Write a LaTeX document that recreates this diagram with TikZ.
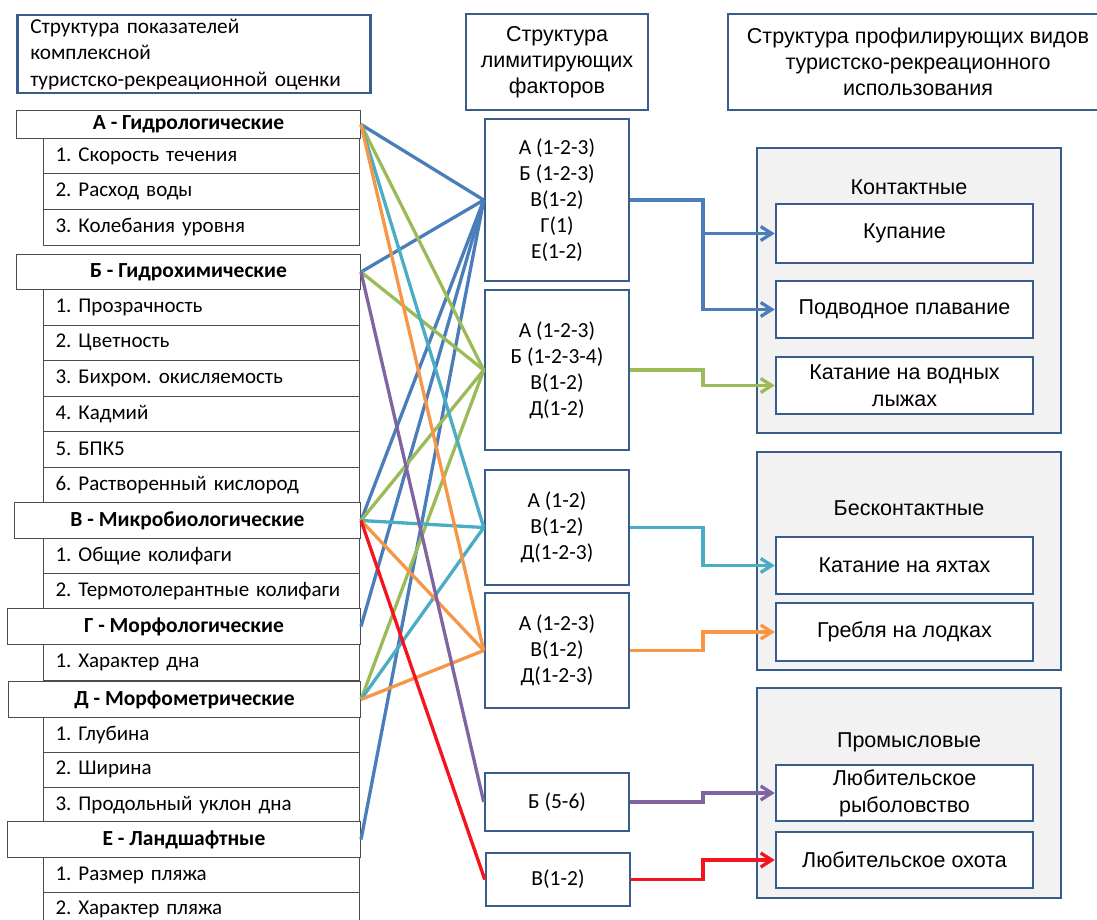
\documentclass[tikz,border=0pt]{standalone}
\usepackage{fontspec}
\setmainfont{Carlito}
\newfontfamily\arialfont{Liberation Sans}
\usetikzlibrary{arrows.meta}
\definecolor{frame}{HTML}{385D8A}
\definecolor{lblue}{HTML}{4A7EBB}
\definecolor{lgreen}{HTML}{9BBB59}
\definecolor{lcyan}{HTML}{4BACC6}
\definecolor{lorange}{HTML}{F79646}
\definecolor{lpurple}{HTML}{8064A2}
\definecolor{lred}{HTML}{F5141E}
\definecolor{grpfill}{HTML}{F2F2F2}
\frenchspacing

\begin{document}
\begin{tikzpicture}[x=1pt,y=-1pt,
	hdr/.style={draw=black!70,line width=1pt,fill=white,anchor=north west,inner sep=0pt,font=\bfseries\fontsize{21.5}{24}\selectfont},
	item/.style={draw=black!70,line width=1pt,fill=white,anchor=north west,text width=292pt,inner xsep=12pt,inner ysep=0pt,minimum height=35.5pt,align=left,font=\fontsize{21}{24}\selectfont},
	title/.style={draw=frame,line width=2.5pt,fill=white,inner sep=0pt,font=\arialfont\fontsize{21.5}{26}\selectfont,align=center},
	lim/.style={draw=frame,line width=2.5pt,fill=white,minimum width=144pt,inner sep=0pt,align=center,font=\fontsize{21.5}{26}\selectfont},
	grp/.style={draw=frame,line width=2.5pt,fill=grpfill},
	kind/.style={draw=frame,line width=2.5pt,fill=white,minimum width=257pt,inner sep=0pt,align=center,font=\arialfont\fontsize{21.5}{27}\selectfont},
	lnk/.style={line width=3.3pt},
	arr/.style={line width=3.3pt,-{Straight Barb[length=11pt,width=14pt]}}]
	\useasboundingbox (0,0) rectangle (1097,920);

	% headers
	\node[title,anchor=north west,minimum width=353pt,minimum height=78pt,text width=327pt,inner xsep=13pt,align=left,font=\fontsize{21.3}{26.5}\selectfont] (tleft) at (16,14) {Структура показателей\\комплексной\\туристско-рекреационной оценки};
	\node[title,minimum width=182pt,minimum height=96pt] (tmid) at (557,62) {Структура\\лимитирующих\\факторов};
	\node[title,minimum width=380pt,minimum height=96pt] (tright) at (918,62) {Структура профилирующих видов\\туристско-рекреационного\\использования};

	% indicators
	\node[hdr,minimum width=344pt,minimum height=28pt] (hA) at (16,110) {А - Гидрологические};
	\node[item] (a1) at (43,138) {1. Скорость течения};
	\node[item] (a2) at (43,173.5) {2. Расход воды};
	\node[item] (a3) at (43,209) {3. Колебания уровня};
	\node[hdr,minimum width=344pt,minimum height=35pt] (hB) at (16,254) {Б - Гидрохимические};
	\node[item] (b1) at (43,289) {1. Прозрачность};
	\node[item] (b2) at (43,324.5) {2. Цветность};
	\node[item] (b3) at (43,360) {3. Бихром. окисляемость};
	\node[item] (b4) at (43,395.5) {4. Кадмий};
	\node[item] (b5) at (43,431) {5. БПК5};
	\node[item] (b6) at (43,466.5) {6. Растворенный кислород};
	\node[hdr,minimum width=346pt,minimum height=36pt] (hV) at (14,502) {В - Микробиологические};
	\node[item] (v1) at (43,538) {1. Общие колифаги};
	\node[item] (v2) at (43,573) {2. Термотолерантные колифаги};
	\node[hdr,minimum width=353pt,minimum height=36pt] (hG) at (7,608) {Г - Морфологические};
	\node[item] (g1) at (43,644) {1. Характер дна};
	\node[hdr,minimum width=352pt,minimum height=36pt] (hD) at (8,681) {Д - Морфометрические};
	\node[item] (d1) at (43,717) {1. Глубина};
	\node[item] (d2) at (43,751.5) {2. Ширина};
	\node[item] (d3) at (43,786.5) {3. Продольный уклон дна};
	\node[hdr,minimum width=353pt,minimum height=36pt] (hE) at (7,821) {Е - Ландшафтные};
	\node[item] (e1) at (43,857) {1. Размер пляжа};
	\node[item] (e2) at (43,891.5) {2. Характер пляжа};

	% limiting factors
	\node[lim,minimum height=162pt] (m1) at (557,200) {А (1-2-3)\\Б (1-2-3)\\В(1-2)\\Г(1)\\Е(1-2)};
	\node[lim,minimum height=160pt] (m2) at (557,370) {А (1-2-3)\\Б (1-2-3-4)\\В(1-2)\\Д(1-2)};
	\node[lim,minimum height=115pt] (m3) at (557,527.5) {А (1-2)\\В(1-2)\\Д(1-2-3)};
	\node[lim,minimum height=115pt] (m4) at (557,650.5) {А (1-2-3)\\В(1-2)\\Д(1-2-3)};
	\node[lim,minimum height=58pt] (m5) at (557,802) {Б (5-6)};
	\node[lim,minimum height=53pt] (m6) at (558,879.5) {В(1-2)};

	% kinds of use
	\draw[grp] (757,148) rectangle (1061,433);
	\draw[grp] (757,452) rectangle (1061,670);
	\draw[grp] (757,688) rectangle (1061,898);
	\node[font=\arialfont\fontsize{21.5}{24}\selectfont] (g1t) at (909,187) {Контактные};
	\node[font=\arialfont\fontsize{21.5}{24}\selectfont] (g2t) at (909,508) {Бесконтактные};
	\node[font=\arialfont\fontsize{21.5}{24}\selectfont] (g3t) at (909,742) {Промысловые};
	\node[kind,minimum height=59pt] (kup) at (904.5,233.5) {Купание};
	\node[kind,minimum height=57pt] (podv) at (904.5,309.5) {Подводное плавание};
	\node[kind,minimum height=57pt] (ski) at (904.5,385.5) {Катание на водных\\лыжах};
	\node[kind,minimum height=57pt] (yacht) at (904.5,565.5) {Катание на яхтах};
	\node[kind,minimum height=58pt] (boat) at (904.5,632) {Гребля на лодках};
	\node[kind,minimum height=56pt] (fish) at (904.5,793) {Любительское\\рыболовство};
	\node[kind,minimum height=56pt] (hunt) at (904.5,860) {Любительское охота};

	% links
	\draw[lnk,lblue] (hA.east) -- (m1.west);
	\draw[lnk,lblue] (hB.east) -- (m1.west);
	\draw[lnk,lblue] (hV.east) -- (m1.west);
	\draw[lnk,lblue] (hG.east) -- (m1.west);
	\draw[lnk,lblue] (hE.east) -- (m1.west);
	\draw[lnk,lgreen] (hA.east) -- (m2.west);
	\draw[lnk,lgreen] (hB.east) -- (m2.west);
	\draw[lnk,lgreen] (hV.east) -- (m2.west);
	\draw[lnk,lgreen] (hD.east) -- (m2.west);
	\draw[lnk,lcyan] (hA.east) -- (m3.west);
	\draw[lnk,lcyan] (hV.east) -- (m3.west);
	\draw[lnk,lcyan] (hD.east) -- (m3.west);
	\draw[lnk,lorange] (hA.east) -- (m4.west);
	\draw[lnk,lorange] (hV.east) -- (m4.west);
	\draw[lnk,lorange] (hD.east) -- (m4.west);
	\draw[lnk,lpurple] (hB.east) -- (m5.west);
	\draw[lnk,lred] (hV.east) -- (m6.west);

	% arrows
	\coordinate (bus) at (703,0);
	\draw[arr,lblue] (m1.east) -- (m1.east -| bus) |- (kup.west);
	\draw[arr,lblue] (m1.east -| bus) |- (podv.west);
	\draw[arr,lgreen] (m2.east) -- (m2.east -| bus) |- (ski.west);
	\draw[arr,lcyan] (m3.east) -- (m3.east -| bus) |- (yacht.west);
	\draw[arr,lorange] (m4.east) -- (m4.east -| bus) |- (boat.west);
	\draw[arr,lpurple] (m5.east) -- (m5.east -| bus) |- (fish.west);
	\draw[arr,lred] (m6.east) -- (m6.east -| bus) |- (hunt.west);
\end{tikzpicture}
\end{document}
